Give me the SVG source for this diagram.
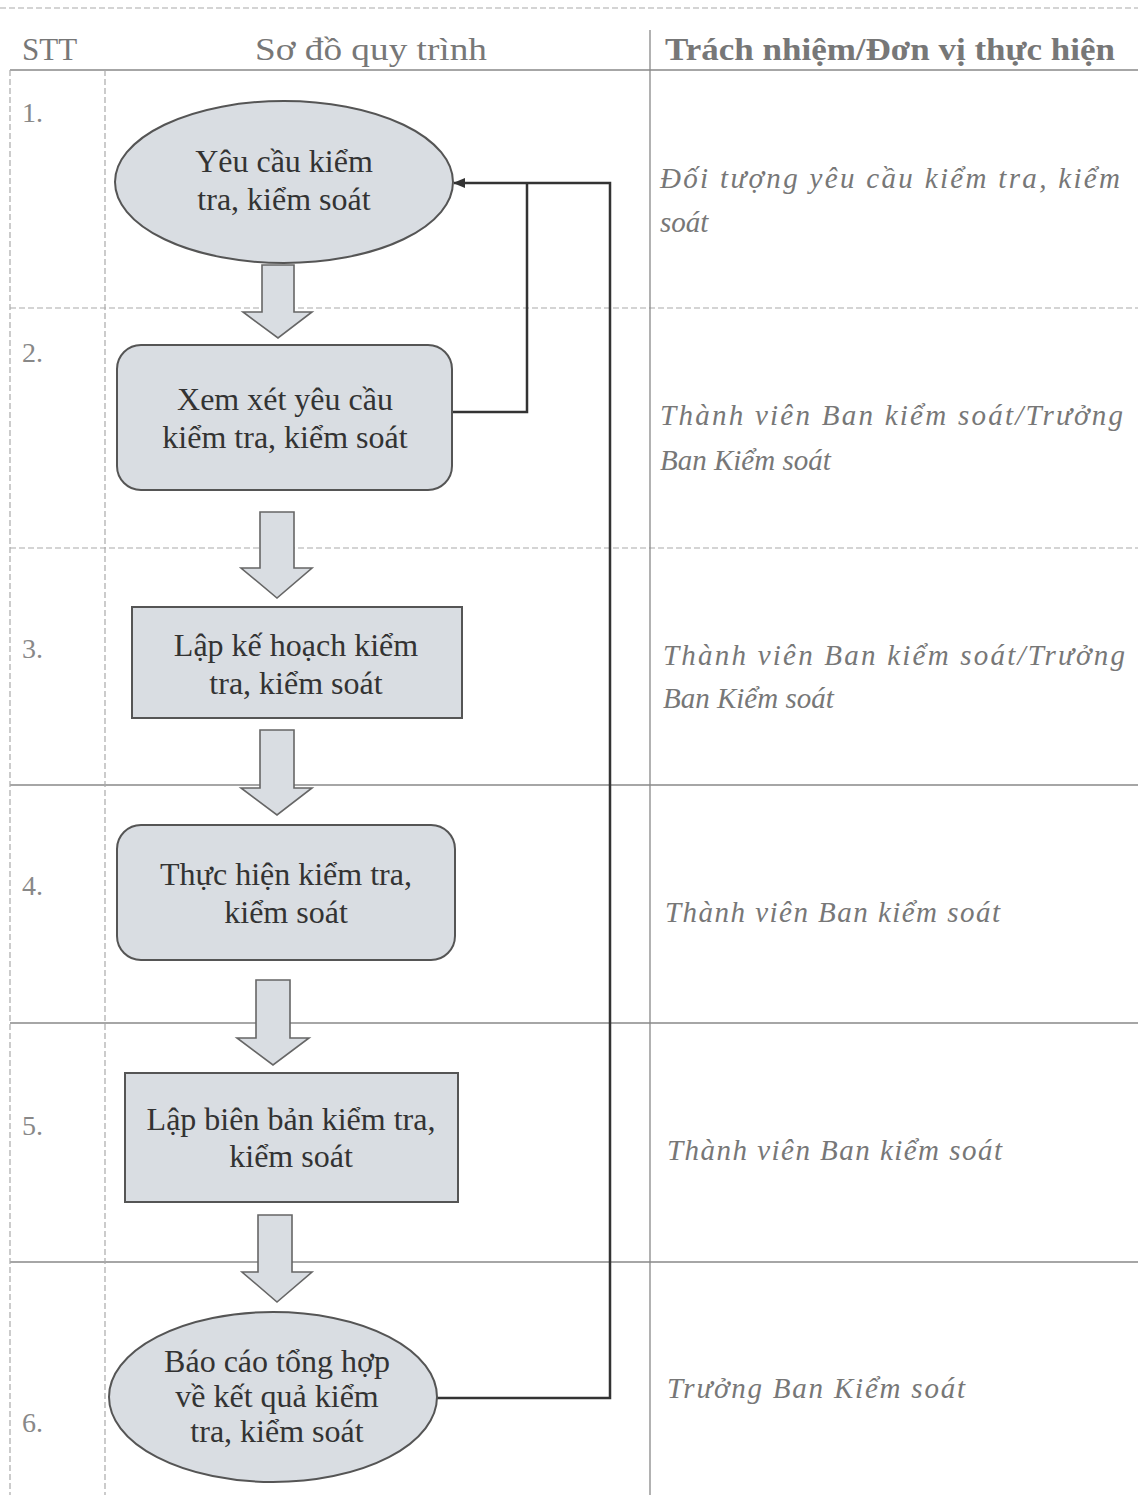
<svg xmlns="http://www.w3.org/2000/svg" width="1138" height="1495" viewBox="0 0 1138 1495" font-family="'Liberation Serif', 'DejaVu Serif', 'Times New Roman', serif">
<defs>
<marker id="ah" markerWidth="12" markerHeight="10" refX="11" refY="5" orient="auto" markerUnits="userSpaceOnUse">
<path d="M0,0 L12,5 L0,10 Z" fill="#333"/>
</marker>
<style>
text{font-family:"Liberation Serif","DejaVu Serif","Times New Roman",serif}
.grid{stroke:#888;stroke-width:1.3;fill:none}
.faint{stroke:#aaa;stroke-width:1.2;fill:none;stroke-dasharray:6 3}
.hdr{font-size:31px;fill:#777}
.num{font-size:28px;fill:#888}
.node{fill:#d9dde2;stroke:#555;stroke-width:2}
.blk{fill:#d9dde2;stroke:#666;stroke-width:1.6}
.lbl{font-size:32px;fill:#333;text-anchor:middle}
.resp{font-style:italic;font-size:29px;fill:#777}
.conn{stroke:#333;stroke-width:2.5;fill:none}
</style>
</defs>
<rect width="1138" height="1495" fill="#fff"/>
<g id="table">
<line class="faint" x1="0" y1="8" x2="1138" y2="8"/>
<line class="grid" x1="10" y1="70" x2="1138" y2="70"/>
<line class="faint" x1="10" y1="308" x2="1138" y2="308"/>
<line class="faint" x1="10" y1="548" x2="1138" y2="548"/>
<line class="grid" x1="10" y1="785" x2="1138" y2="785"/>
<line class="grid" x1="10" y1="1023" x2="1138" y2="1023"/>
<line class="grid" x1="10" y1="1262" x2="1138" y2="1262"/>
<line class="faint" x1="105" y1="70" x2="105" y2="1495"/>
<line class="faint" x1="10" y1="70" x2="10" y2="1495"/>
<line class="grid" x1="650" y1="30" x2="650" y2="1495"/>
<text class="hdr" x="22" y="60">STT</text>
<text class="hdr" x="255" y="60" textLength="232" lengthAdjust="spacingAndGlyphs">Sơ đồ quy trình</text>
<text class="hdr" x="665" y="60" font-weight="bold" textLength="450" lengthAdjust="spacingAndGlyphs">Trách nhiệm/Đơn vị thực hiện</text>
<text class="num" x="22" y="122">1.</text>
<text class="num" x="22" y="362">2.</text>
<text class="num" x="22" y="658">3.</text>
<text class="num" x="22" y="895">4.</text>
<text class="num" x="22" y="1135">5.</text>
<text class="num" x="22" y="1432">6.</text>
<text class="resp" x="660" y="188" textLength="460" lengthAdjust="spacing">Đối tượng yêu cầu kiểm tra, kiểm</text>
<text class="resp" x="660" y="232">soát</text>
<text class="resp" x="660" y="425" textLength="463" lengthAdjust="spacing">Thành viên Ban kiểm soát/Trưởng</text>
<text class="resp" x="660" y="470">Ban Kiểm soát</text>
<text class="resp" x="663" y="665" textLength="462" lengthAdjust="spacing">Thành viên Ban kiểm soát/Trưởng</text>
<text class="resp" x="663" y="708">Ban Kiểm soát</text>
<text class="resp" x="665" y="922" textLength="335" lengthAdjust="spacing">Thành viên Ban kiểm soát</text>
<text class="resp" x="667" y="1160" textLength="335" lengthAdjust="spacing">Thành viên Ban kiểm soát</text>
<text class="resp" x="667" y="1398" textLength="298" lengthAdjust="spacing">Trưởng Ban Kiểm soát</text>
</g>
<g id="connectors">
<path class="blk" d="M262,265 H294 V312 H312 L278,338 L243,312 H262 Z"/>
<path class="blk" d="M260,512 H294 V568 H312 L277,598 L241,568 H260 Z"/>
<path class="blk" d="M260,730 H294 V788 H312 L277,815 L241,788 H260 Z"/>
<path class="blk" d="M256,980 H290 V1038 H309 L273,1065 L237,1038 H256 Z"/>
<path class="blk" d="M258,1215 H292 V1272 H312 L277,1302 L242,1272 H258 Z"/>
<polyline class="conn" points="452,412 527,412 527,183"/>
<polyline class="conn" points="437,1398 610,1398 610,183 454,183" marker-end="url(#ah)"/>
</g>
<g id="n1">
<ellipse class="node" cx="284" cy="182" rx="169" ry="81"/>
<text class="lbl" x="284" y="172">Yêu cầu kiểm</text>
<text class="lbl" x="284" y="210">tra, kiểm soát</text>
</g>
<g id="n2">
<rect class="node" x="117" y="345" width="335" height="145" rx="24"/>
<text class="lbl" x="285" y="410">Xem xét yêu cầu</text>
<text class="lbl" x="285" y="448">kiểm tra, kiểm soát</text>
</g>
<g id="n3">
<rect class="node" x="132" y="607" width="330" height="111"/>
<text class="lbl" x="296" y="656">Lập kế hoạch kiểm</text>
<text class="lbl" x="296" y="694">tra, kiểm soát</text>
</g>
<g id="n4">
<rect class="node" x="117" y="825" width="338" height="135" rx="24"/>
<text class="lbl" x="286" y="885">Thực hiện kiểm tra,</text>
<text class="lbl" x="286" y="923">kiểm soát</text>
</g>
<g id="n5">
<rect class="node" x="125" y="1073" width="333" height="129"/>
<text class="lbl" x="291" y="1130">Lập biên bản kiểm tra,</text>
<text class="lbl" x="291" y="1167">kiểm soát</text>
</g>
<g id="n6">
<ellipse class="node" cx="273" cy="1397" rx="164" ry="85"/>
<text class="lbl" x="277" y="1372">Báo cáo tổng hợp</text>
<text class="lbl" x="277" y="1407">về kết quả kiểm</text>
<text class="lbl" x="277" y="1442">tra, kiểm soát</text>
</g>
</svg>
